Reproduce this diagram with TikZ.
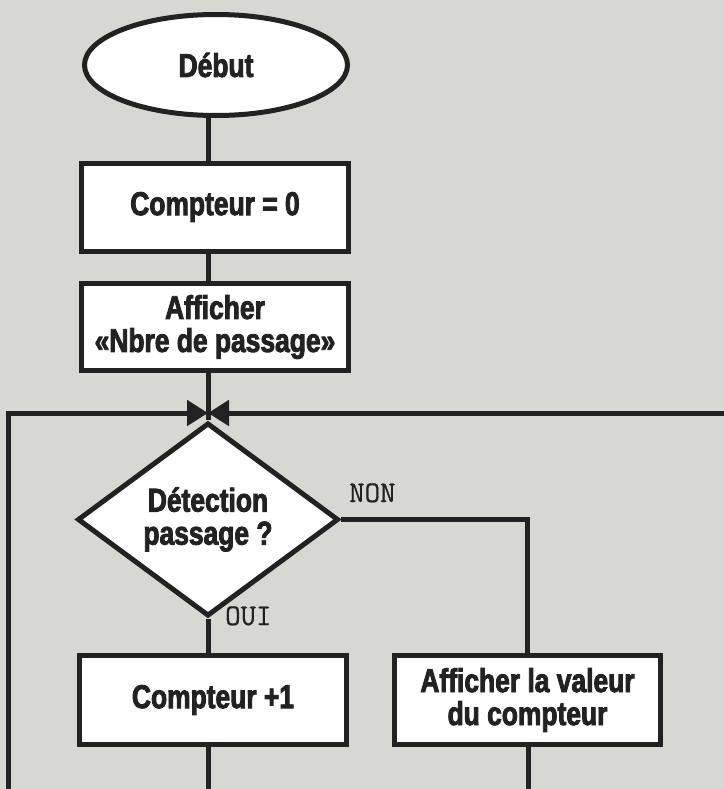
\documentclass[tikz,border=0pt]{standalone}
\usepackage{fontspec}
\usetikzlibrary{shapes.geometric,arrows.meta}
\newfontfamily\condfont{Liberation Sans}[FakeStretch=0.80, BoldFeatures={FakeBold=2.6}]
\newfontfamily\labelfont{Latin Modern Mono}[FakeBold=0.6]
\definecolor{paper}{RGB}{214,216,209}
\definecolor{ink}{RGB}{34,34,34}
\tikzset{
  flow/.style={draw=ink, line width=5bp, fill=white, text=ink, inner sep=0pt,
    align=center, font=\condfont\bfseries\fontsize{33bp}{33bp}\selectfont},
  terminal/.style={flow, ellipse, minimum width=263bp, minimum height=101bp},
  stepbox/.style={flow, rectangle, minimum width=267bp, minimum height=88bp},
  decision/.style={flow, diamond, minimum width=261bp, minimum height=159bp},
  link/.style={draw=ink, line width=5bp},
  tip/.style={-{Triangle[length=21bp,width=25bp]}},
  branch/.style={text=ink, inner sep=0pt, font=\labelfont\fontsize{30bp}{32bp}\selectfont}
}
\begin{document}
\begin{tikzpicture}[x=1bp,y=-1bp]
  \useasboundingbox (0,0) rectangle (724,789);
  \fill[paper] (0,0) rectangle (724,789);

  % nodes
  \node[terminal] (start) at (216,65) {Début};
  \node[stepbox] (init) at (215,207) {Compteur = 0};
  \node[stepbox, minimum height=87bp] (show) at (215,327) {Afficher\\«Nbre de passage»};
  \node[decision] (test) at (208,519.5) {Détection\\passage ?};
  \node[stepbox, minimum height=89bp] (incr) at (213,700) {Compteur +1};
  \node[stepbox, minimum width=266bp, minimum height=89bp] (disp) at (527.5,700) {Afficher la valeur\\du compteur};

  % junction and free ends of the loop
  \coordinate (junc) at (208,413);
  \coordinate (loopL) at (8,796);
  \coordinate (loopR) at (730,413);
  \coordinate (incrOut) at (208,796);
  \coordinate (dispOut) at (528,796);

  % main column
  \draw[link] (junc |- start.south) -- (junc |- init.north);
  \draw[link] (junc |- init.south) -- (junc |- show.north);
  \draw[link] (junc |- show.south) -- (test.north);
  \draw[link] (test.south) -- (junc |- incr.north);
  \draw[link] (junc |- incr.south) -- (incrOut);

  % NON branch
  \draw[link] (test.east) -| (disp.north);
  \draw[link] (dispOut |- disp.south) -- (dispOut);

  % loop back into the junction
  \draw[link, tip] (loopL) |- (junc);
  \draw[link, tip] (loopR) -- (junc);

  % branch labels
  \node[branch, anchor=base west] (non) at (349,502) {NON};
  \node[branch, anchor=base west] (oui) at (225,625) {OUI};
\end{tikzpicture}
\end{document}
